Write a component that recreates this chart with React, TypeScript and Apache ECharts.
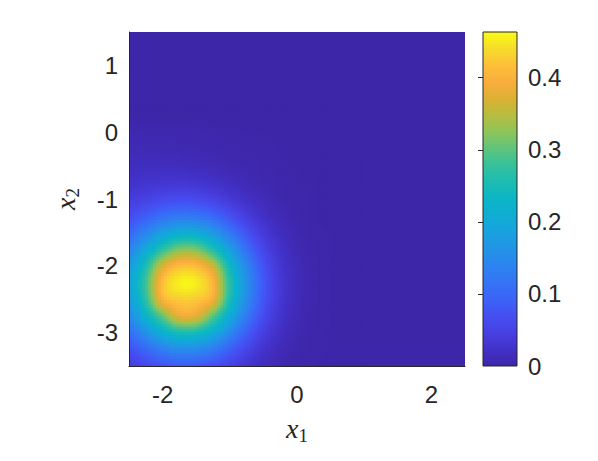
import React, { useEffect, useRef } from 'react';
import * as echarts from 'echarts';

// Grid nodes (x1 columns, x2 rows) and the density at each node.
const X_NODES = [-2.5, -2.25, -2, -1.75, -1.5, -1.25, -1, -0.75, -0.5, -0.25, 0, 0.25, 0.5];
const Y_NODES = [-3.5, -3.25, -3, -2.75, -2.5, -2.25, -2, -1.75, -1.5, -1.25, -1, -0.75, -0.5, -0.25, 0];
// rows follow Y_NODES (bottom to top), columns follow X_NODES; elsewhere the density is 0
const DENSITY = [
  [0.038, 0.054, 0.069, 0.079, 0.077, 0.064, 0.046, 0.028, 0.014, 0.006, 0.002, 0.001, 0.000],
  [0.066, 0.098, 0.130, 0.150, 0.148, 0.124, 0.088, 0.053, 0.027, 0.012, 0.004, 0.002, 0.001],
  [0.103, 0.157, 0.212, 0.247, 0.244, 0.205, 0.145, 0.087, 0.044, 0.019, 0.007, 0.002, 0.001],
  [0.143, 0.221, 0.302, 0.376, 0.372, 0.295, 0.207, 0.124, 0.063, 0.027, 0.010, 0.003, 0.001],
  [0.173, 0.269, 0.396, 0.425, 0.422, 0.388, 0.254, 0.152, 0.077, 0.033, 0.012, 0.004, 0.001],
  [0.183, 0.283, 0.414, 0.455, 0.452, 0.403, 0.266, 0.160, 0.081, 0.035, 0.013, 0.004, 0.001],
  [0.168, 0.257, 0.369, 0.415, 0.412, 0.360, 0.239, 0.144, 0.073, 0.031, 0.012, 0.004, 0.001],
  [0.135, 0.203, 0.272, 0.321, 0.318, 0.261, 0.185, 0.111, 0.056, 0.025, 0.009, 0.003, 0.001],
  [0.098, 0.141, 0.185, 0.212, 0.209, 0.174, 0.124, 0.074, 0.038, 0.017, 0.006, 0.002, 0.001],
  [0.064, 0.088, 0.111, 0.125, 0.121, 0.101, 0.072, 0.043, 0.022, 0.010, 0.004, 0.001, 0.000],
  [0.040, 0.051, 0.061, 0.066, 0.063, 0.052, 0.037, 0.022, 0.012, 0.005, 0.002, 0.001, 0.000],
  [0.025, 0.029, 0.032, 0.033, 0.030, 0.025, 0.017, 0.011, 0.006, 0.003, 0.001, 0.001, 0.000],
  [0.016, 0.017, 0.017, 0.016, 0.014, 0.011, 0.008, 0.005, 0.003, 0.002, 0.001, 0.000, 0.000],
  [0.010, 0.010, 0.009, 0.008, 0.007, 0.006, 0.004, 0.003, 0.002, 0.001, 0.000, 0.000, 0.000],
  [0.007, 0.006, 0.006, 0.005, 0.004, 0.003, 0.002, 0.001, 0.001, 0.000, 0.000, 0.000, 0.000],
];

const X_RANGE = [-2.5, 2.5];
const Y_RANGE = [-3.5, 1.5];
const X_TICKS = [-2, 0, 2];
const Y_TICKS = [-3, -2, -1, 0, 1];
const CBAR_LABELS = [0, 0.1, 0.2, 0.3, 0.4];
const CBAR_TICKS = [0.1, 0.2, 0.3, 0.4];
const CBAR_MAX = 0.4634;

// parula colour map, evenly spaced stops
const PARULA = [
  '#3e26a8', '#4332c9', '#4740e2', '#4550f2', '#3c63f7', '#3474f5', '#2d84ef',
  '#2293e6', '#19a1df', '#0fadd4', '#0bb5c6', '#1cbcb2', '#35c19c', '#5ec47c',
  '#8dc45b', '#b6bd40', '#dbb134', '#f9ad3d', '#fdc03a', '#f6dc2a', '#f9fb14',
];

const FONT = 'Liberation Sans, Arial, sans-serif';
const SERIF = 'Liberation Serif, DejaVu Serif, serif';
const INK = '#262626';

// Smooth display of the node table (like shading interp): Catmull-Rom upsampling.
function nodeValue(i: number, j: number): number {
  if (i >= X_NODES.length || j >= Y_NODES.length) return 0;
  if (i < 0) return 2 * nodeValue(0, j) - nodeValue(1, j);
  if (j < 0) return 2 * nodeValue(i, 0) - nodeValue(i, 1);
  return DENSITY[j][i];
}
function cr(p0: number, p1: number, p2: number, p3: number, t: number) {
  return 0.5 * (2 * p1 + (-p0 + p2) * t + (2 * p0 - 5 * p1 + 4 * p2 - p3) * t * t + (-p0 + 3 * p1 - 3 * p2 + p3) * t * t * t);
}
function sample(x: number, y: number) {
  const hx = X_NODES[1] - X_NODES[0];
  const hy = Y_NODES[1] - Y_NODES[0];
  const fx = (x - X_NODES[0]) / hx;
  const fy = (y - Y_NODES[0]) / hy;
  const i = Math.floor(fx);
  const j = Math.floor(fy);
  const tx = fx - i;
  const ty = fy - j;
  const col: number[] = [];
  for (let m = -1; m <= 2; m++) {
    col.push(cr(nodeValue(i - 1, j + m), nodeValue(i, j + m), nodeValue(i + 1, j + m), nodeValue(i + 2, j + m), tx));
  }
  return Math.max(0, cr(col[0], col[1], col[2], col[3], ty));
}

const STEP = 0.04;
function buildCells() {
  const cells: number[][] = [];
  const hx = X_NODES[1] - X_NODES[0];
  const hy = Y_NODES[1] - Y_NODES[0];
  const xEnd = X_NODES[X_NODES.length - 1] + 2 * hx;
  const yEnd = Y_NODES[Y_NODES.length - 1] + 2 * hy;
  const nx = Math.ceil((xEnd - X_RANGE[0]) / STEP);
  const ny = Math.ceil((yEnd - Y_RANGE[0]) / STEP);
  for (let a = 0; a < nx; a++) {
    for (let b = 0; b < ny; b++) {
      const cx = X_RANGE[0] + (a + 0.5) * STEP;
      const cy = Y_RANGE[0] + (b + 0.5) * STEP;
      cells.push([cx, cy, sample(cx, cy)]);
    }
  }
  return cells;
}

export default function App() {
  const ref = useRef<HTMLDivElement>(null);
  useEffect(() => {
    if (!ref.current) return;
    const chart = echarts.init(ref.current, undefined, { renderer: 'svg' });
    const tickLabel = { fontFamily: FONT, fontSize: 24, color: INK };
    const nameRich = {
      i: { fontFamily: SERIF, fontStyle: 'italic', fontSize: 28, lineHeight: 34, color: INK },
      s: { fontFamily: SERIF, fontSize: 19, lineHeight: 22, verticalAlign: 'bottom', color: INK },
    };
    chart.setOption({
      animation: false,
      backgroundColor: '#ffffff',
      grid: [
        { left: 129, top: 32, width: 336, height: 334, show: true, backgroundColor: PARULA[0], borderWidth: 0 },
        { left: 483, top: 32, width: 34, height: 334 },
      ],
      xAxis: [
        {
          gridIndex: 0, type: 'value', min: X_RANGE[0], max: X_RANGE[1], z: 5,
          splitLine: { show: false },
          axisLine: { show: true, onZero: false, lineStyle: { color: INK, width: 1 } },
          axisTick: { show: false },
          axisLabel: { ...tickLabel, customValues: X_TICKS, margin: 16 },
          name: '{i|x}{s|1}', nameLocation: 'middle', nameGap: 45,
          nameTextStyle: { rich: nameRich },
        },
        { gridIndex: 1, type: 'value', min: 0, max: 1, show: false },
      ],
      yAxis: [
        {
          gridIndex: 0, type: 'value', min: Y_RANGE[0], max: Y_RANGE[1], z: 5,
          splitLine: { show: false },
          axisLine: { show: true, onZero: false, lineStyle: { color: INK, width: 1 } },
          axisTick: { show: false },
          axisLabel: { ...tickLabel, customValues: Y_TICKS, margin: 11 },
          name: '{i|x}{s|2}', nameLocation: 'middle', nameGap: 47, nameRotate: 90,
          nameTextStyle: { rich: nameRich },
        },
        {
          gridIndex: 1, type: 'value', min: 0, max: CBAR_MAX, position: 'right', z: 5,
          splitLine: { show: false },
          axisLine: { show: false },
          axisTick: { show: true, inside: true, length: 5, customValues: CBAR_TICKS, lineStyle: { color: INK } },
          axisLabel: {
            ...tickLabel, customValues: CBAR_LABELS, margin: 11,
            formatter: (v: number) => (v === 0 ? '0' : v.toFixed(1)),
          },
        },
      ],
      visualMap: {
        show: false, type: 'continuous', min: 0, max: CBAR_MAX, dimension: 2, seriesIndex: 0,
        inRange: { color: PARULA },
      },
      series: [
        {
          type: 'custom', xAxisIndex: 0, yAxisIndex: 0, silent: true, clip: true,
          encode: { x: 0, y: 1 },
          data: buildCells(),
          renderItem: (params: any, api: any) => {
            const x = api.value(0);
            const y = api.value(1);
            const p1 = api.coord([x - STEP / 2, y + STEP / 2]);
            const p2 = api.coord([x + STEP / 2, y - STEP / 2]);
            return {
              type: 'rect',
              shape: { x: p1[0], y: p1[1], width: p2[0] - p1[0] + 0.8, height: p2[1] - p1[1] + 0.8 },
              style: { fill: api.visual('color') },
            };
          },
        },
        {
          type: 'custom', xAxisIndex: 1, yAxisIndex: 1, silent: true,
          data: [[0, 0]],
          renderItem: (params: any, api: any) => {
            const a = api.coord([0, CBAR_MAX]);
            const b = api.coord([1, 0]);
            return {
              type: 'rect',
              shape: { x: a[0], y: a[1], width: b[0] - a[0], height: b[1] - a[1] },
              style: {
                fill: new echarts.graphic.LinearGradient(0, 1, 0, 0,
                  PARULA.map((c, k) => ({ offset: k / (PARULA.length - 1), color: c }))),
                stroke: INK, lineWidth: 1,
              },
            };
          },
        },
      ],
    });
    return () => chart.dispose();
  }, []);
  return <div ref={ref} style={{ position: 'absolute', left: 0, top: 0, width: 598, height: 461 }} />;
}
